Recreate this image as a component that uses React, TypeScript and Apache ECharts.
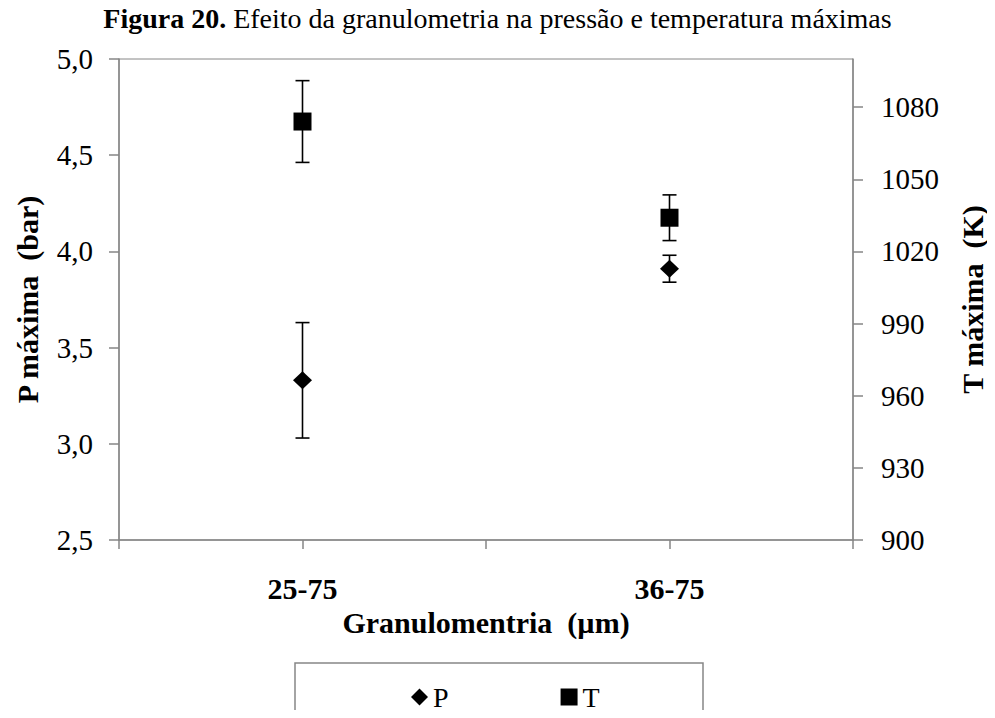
import React, { useEffect, useRef } from "react";
import * as echarts from "echarts";

// Particle size classes on the x axis (blank slots give the extra tick marks)
const categories = ["", "25-75", "", "36-75", ""];
const groups = ["25-75", "36-75"];

// Maximum pressure (bar) and its standard deviation
const pressureMean = [3.33, 3.91];
const pressureErr = [0.3, 0.07];

// Maximum temperature (K) and its standard deviation
const tempMean = [1074, 1034];
const tempErr = [17, 9.5];

const FONT = "'Liberation Serif', 'Times New Roman', serif";
const AXIS_GRAY = "#868686";
const LABEL_SIZE = 29;

const idx = (g: string) => categories.indexOf(g);

const pointData = (means: number[]) =>
  groups.map((g, i) => [idx(g), means[i]]);

const errorData = (means: number[], errs: number[]) =>
  groups.map((g, i) => [idx(g), means[i] - errs[i], means[i] + errs[i]]);

// Vertical whisker with horizontal caps at both ends
const renderErrorBar = (params: any, api: any) => {
  const x = api.value(0);
  const lo = api.coord([x, api.value(1)]);
  const hi = api.coord([x, api.value(2)]);
  const half = 7;
  const style = { stroke: "#000", lineWidth: 1.6 };
  return {
    type: "group",
    children: [
      { type: "line", shape: { x1: lo[0], y1: lo[1], x2: hi[0], y2: hi[1] }, style },
      { type: "line", shape: { x1: hi[0] - half, y1: hi[1], x2: hi[0] + half, y2: hi[1] }, style },
      { type: "line", shape: { x1: lo[0] - half, y1: lo[1], x2: lo[0] + half, y2: lo[1] }, style },
    ],
  };
};

const boldName = { fontFamily: FONT, fontSize: 30, fontWeight: "bold", color: "#000" };

export default function App() {
  const ref = useRef<HTMLDivElement>(null);

  useEffect(() => {
    if (!ref.current) return;
    const chart = echarts.init(ref.current, undefined, { renderer: "svg" });
    chart.setOption({
      animation: false,
      backgroundColor: "#fff",
      textStyle: { fontFamily: FONT, color: "#000" },
      title: {
        text: "{b|Figura 20.} Efeito da granulometria na pressão e temperatura máximas",
        left: "center",
        top: 0,
        padding: [3, 5, 5, 5],
        textStyle: {
          fontFamily: FONT,
          fontSize: 28,
          lineHeight: 30,
          fontWeight: "normal",
          color: "#000",
          rich: {
            b: { fontFamily: FONT, fontSize: 28, lineHeight: 30, fontWeight: "bold", color: "#000" },
          },
        },
      },
      grid: {
        left: 119,
        right: 137,
        top: 59,
        bottom: 178,
        show: true,
        borderColor: AXIS_GRAY,
        borderWidth: 1,
        backgroundColor: "transparent",
      },
      legend: {
        left: 406,
        top: 678,
        itemWidth: 17,
        itemHeight: 17,
        itemGap: 112,
        data: [
          { name: "P", icon: "diamond" },
          { name: "T", icon: "rect" },
        ],
        itemStyle: { color: "#000", opacity: 1 },
        textStyle: { fontFamily: FONT, fontSize: 28, color: "#000" },
      },
      xAxis: {
        type: "category",
        data: categories,
        boundaryGap: false,
        name: "Granulomentria  (µm)",
        nameLocation: "middle",
        nameGap: 64,
        nameTextStyle: boldName,
        axisLine: { lineStyle: { color: AXIS_GRAY, width: 1.5 } },
        axisTick: { interval: 0, length: 9, lineStyle: { color: AXIS_GRAY, width: 1.5 } },
        axisLabel: {
          interval: 0,
          margin: 33,
          fontFamily: FONT,
          fontSize: 30,
          fontWeight: "bold",
          color: "#000",
        },
        splitLine: { show: false },
      },
      yAxis: [
        {
          type: "value",
          min: 2.5,
          max: 5.0,
          interval: 0.5,
          name: "P máxima  (bar)",
          nameLocation: "middle",
          nameRotate: 90,
          nameGap: 77,
          nameTextStyle: boldName,
          axisLine: { show: true, lineStyle: { color: AXIS_GRAY, width: 1.5 } },
          axisTick: { show: true, length: 10, lineStyle: { color: AXIS_GRAY, width: 1.5 } },
          axisLabel: {
            margin: 26,
            fontFamily: FONT,
            fontSize: LABEL_SIZE,
            color: "#000",
            formatter: (v: number) => v.toFixed(1).replace(".", ","),
          },
          splitLine: { show: false },
        },
        {
          type: "value",
          min: 900,
          max: 1100,
          interval: 30,
          position: "right",
          name: "T máxima  (K)",
          nameLocation: "middle",
          nameRotate: 90,
          nameGap: 104,
          nameTextStyle: boldName,
          axisLine: { show: true, lineStyle: { color: AXIS_GRAY, width: 1.5 } },
          axisTick: { show: true, length: 10, lineStyle: { color: AXIS_GRAY, width: 1.5 } },
          axisLabel: {
            margin: 28,
            showMaxLabel: false,
            fontFamily: FONT,
            fontSize: LABEL_SIZE,
            color: "#000",
            formatter: (v: number) => String(v),
          },
          splitLine: { show: false },
        },
      ],
      graphic: [
        {
          type: "rect",
          shape: { x: 295, y: 663, width: 408, height: 80 },
          style: { fill: "none", stroke: AXIS_GRAY, lineWidth: 1.5 },
          silent: true,
        },
      ],
      series: [
        {
          type: "custom",
          name: "P-err",
          yAxisIndex: 0,
          renderItem: renderErrorBar,
          data: errorData(pressureMean, pressureErr),
          z: 2,
        },
        {
          type: "custom",
          name: "T-err",
          yAxisIndex: 1,
          renderItem: renderErrorBar,
          data: errorData(tempMean, tempErr),
          z: 2,
        },
        {
          type: "scatter",
          name: "P",
          yAxisIndex: 0,
          symbol: "diamond",
          symbolSize: [19, 18],
          itemStyle: { color: "#000", opacity: 1 },
          data: pointData(pressureMean),
          z: 3,
        },
        {
          type: "scatter",
          name: "T",
          yAxisIndex: 1,
          symbol: "rect",
          symbolSize: 18,
          itemStyle: { color: "#000", opacity: 1 },
          data: pointData(tempMean),
          z: 3,
        },
      ],
    });
    return () => chart.dispose();
  }, []);

  return <div ref={ref} style={{ width: 995, height: 718, margin: -8 }} />;
}
